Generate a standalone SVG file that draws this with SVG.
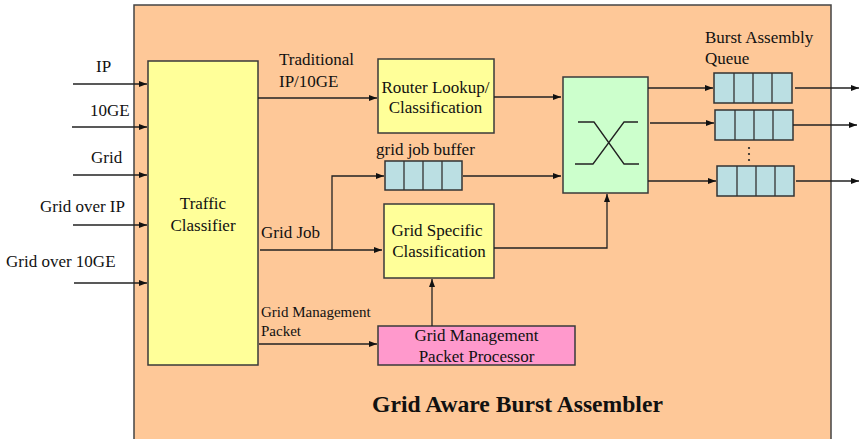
<svg xmlns="http://www.w3.org/2000/svg" width="862" height="439" viewBox="0 0 862 439">
<style>
text{font-family:"Liberation Serif","Times New Roman",serif;fill:#111;}
.l17{font-size:17px;}
.l15{font-size:15px;}
.mid{text-anchor:middle;}
.box{stroke:#3a3a3a;stroke-width:1.5;}
.yel{fill:#ffff99;}
.q{fill:#bbdfe3;stroke:#333;stroke-width:1.5;}
.qd{stroke:#333;stroke-width:1.3;}
.c{fill:none;stroke:#222;stroke-width:1.3;}
.ca{fill:none;stroke:#222;stroke-width:1.3;marker-end:url(#ah);}
</style>
<defs>
<marker id="ah" markerUnits="userSpaceOnUse" markerWidth="9" markerHeight="7" refX="8" refY="3" orient="auto">
<path d="M0,0 L8,3 L0,6 z" fill="#111"/>
</marker>
</defs>
<rect width="862" height="439" fill="#ffffff"/>
<g id="assembler">
<rect x="134" y="5" width="697" height="440" fill="#fec898" stroke="#444" stroke-width="1.5"/>
<text x="517.5" y="412" class="mid" style="font-size:23.6px;font-weight:bold">Grid Aware Burst Assembler</text>
</g>
<g id="inputs-labels">
<text x="96" y="72" class="l17">IP</text>
<text x="90" y="116" class="l17">10GE</text>
<text x="91" y="163" class="l17">Grid</text>
<text x="40" y="211.5" class="l17">Grid over IP</text>
<text x="6" y="267" class="l17">Grid over 10GE</text>
</g>
<g id="traffic-classifier">
<rect x="148" y="61" width="110" height="304" class="box yel"/>
<text x="203" y="209" class="l17 mid">Traffic</text>
<text x="203" y="231" class="l17 mid">Classifier</text>
</g>
<g id="router-lookup">
<rect x="378" y="59" width="116" height="74" class="box yel"/>
<text x="435.5" y="93" class="l17 mid">Router Lookup/</text>
<text x="435.5" y="113" class="l17 mid">Classification</text>
</g>
<g id="grid-job-buffer">
<text x="376" y="155" class="l17">grid job buffer</text>
<rect x="385" y="161" width="77" height="29" class="q"/>
<path d="M404 161V190M423 161V190M442 161V190" class="qd"/>
</g>
<g id="grid-specific">
<rect x="384" y="204" width="110" height="74" class="box yel"/>
<text x="437" y="236" class="l17 mid">Grid Specific</text>
<text x="439" y="257" class="l17 mid">Classification</text>
</g>
<g id="grid-management-processor">
<rect x="378" y="326" width="197" height="39" class="box" fill="#ff99cc"/>
<text x="476.5" y="341" class="l17 mid">Grid Management</text>
<text x="476.5" y="362" class="l17 mid">Packet Processor</text>
</g>
<g id="switch">
<rect x="563" y="77" width="85" height="116" class="box" fill="#ccffcc"/>
<path d="M578 122H594L624 164H639M575 164H593L624 122H638" fill="none" stroke="#222" stroke-width="1.3"/>
</g>
<g id="burst-queues">
<text x="705" y="43" class="l17">Burst Assembly</text>
<text x="705" y="64" class="l17">Queue</text>
<rect x="714" y="73" width="78" height="30" class="q"/>
<path d="M734 73V103M753 73V103M772 73V103" class="qd"/>
<rect x="715" y="110" width="78" height="30" class="q"/>
<path d="M735 110V140M754 110V140M773 110V140" class="qd"/>
<rect x="717" y="166" width="77" height="30" class="q"/>
<path d="M737 166V196M756 166V196M775 166V196" class="qd"/>
<circle cx="749" cy="148" r="1.1" fill="#222"/>
<circle cx="749" cy="154" r="1.1" fill="#222"/>
<circle cx="749" cy="160" r="1.1" fill="#222"/>
</g>
<g id="connector-labels">
<text x="279" y="65" class="l17">Traditional</text>
<text x="279" y="87" class="l17">IP/10GE</text>
<text x="261" y="238" class="l17">Grid Job</text>
<text x="261" y="317" class="l15">Grid Management</text>
<text x="261" y="336" class="l15">Packet</text>
</g>
<g id="connectors">
<path d="M73 84H147" class="ca"/>
<path d="M72 127H147" class="ca"/>
<path d="M73 175H147" class="ca"/>
<path d="M73 225H147" class="ca"/>
<path d="M74 283H147" class="ca"/>
<path d="M258 98H377" class="ca"/>
<path d="M494 97H561" class="ca"/>
<path d="M463 176H561" class="ca"/>
<path d="M260 250H382" class="ca"/>
<path d="M332 250V176H384" class="ca"/>
<path d="M494 248H607V194" class="ca"/>
<path d="M432 326V279" class="ca"/>
<path d="M259 344H377" class="ca"/>
<path d="M648 88H713" class="ca"/>
<path d="M650 123H714" class="ca"/>
<path d="M648 181H716" class="ca"/>
<path d="M795 88H859" class="ca"/>
<path d="M793 125H857" class="ca"/>
<path d="M796 181H859" class="ca"/>
</g>
</svg>
